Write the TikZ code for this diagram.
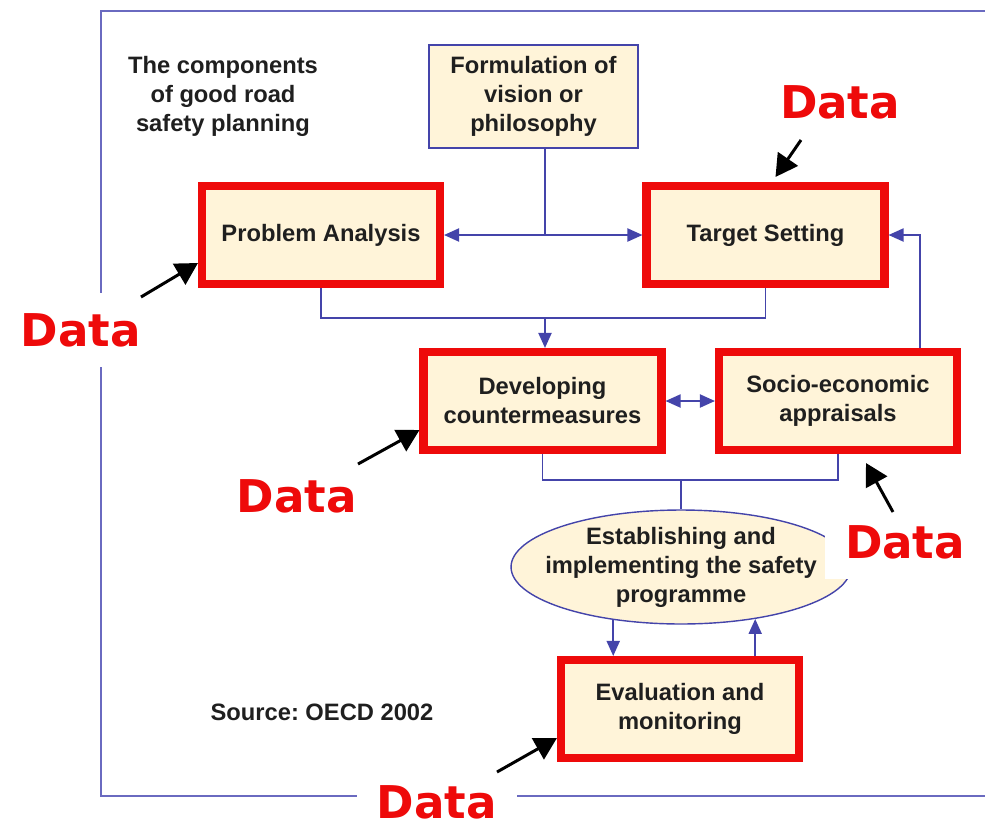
\documentclass[tikz,border=0pt]{standalone}
\usepackage{fontspec}
\setmainfont{Liberation Sans}
\newfontfamily\datafont{DejaVu Sans}
\usetikzlibrary{arrows.meta, shapes.geometric}
\definecolor{cream}{HTML}{FFF4D9}
\definecolor{linkblue}{HTML}{4444AA}
\definecolor{frameblue}{HTML}{6A6AC0}
\definecolor{datared}{HTML}{EE0A0A}
\frenchspacing

\begin{document}
\begin{tikzpicture}[x=0.02cm, y=-0.02cm,
  >={Triangle[length=0.3cm, width=0.26cm]},
  every node/.style={font=\fontsize{13.5}{16.5}\selectfont\bfseries, text=black!88, align=center},
  stage/.style={draw=linkblue, line width=0.9pt, fill=cream, minimum width=4.18cm, minimum height=2.06cm},
  datastage/.style={draw=datared, line width=4.6pt, fill=cream, minimum width=4.76cm, minimum height=1.96cm},
  link/.style={draw=linkblue, line width=1.1pt},
  dataref/.style={font=\datafont\fontsize{25.7}{30}\selectfont\bfseries, text=datared, fill=white, inner sep=0.4cm},
  pointer/.style={line width=1.7pt, -{Triangle[length=0.44cm, width=0.48cm]}}]
\useasboundingbox (0,0) rectangle (985,823);
\draw[frameblue, line width=1.2pt] (985,11) -- (101,11) -- (101,796) -- (985,796);
\path
(223,96) node (title) {The components\\of good road\\safety planning};
\path
(322,712) node (source) {Source: OECD 2002};
\path
(533.5,96.5) node[stage] (form) {Formulation of\\vision or\\philosophy};
\path
(321,235) node[datastage] (prob) {Problem Analysis};
\path
(765.5,235) node[datastage] (targ) {Target Setting};
\path
(542.5,401) node[datastage] (dev) {Developing\\countermeasures};
\path
(838,401) node[datastage] (socio) {Socio-economic\\appraisals};
\path
(681,567) node[ellipse, draw=linkblue, line width=0.8pt, fill=cream, minimum width=6.8cm, minimum height=2.28cm, inner sep=0pt] (impl) {};
\path
(impl.center) node (impltext) {Establishing and\\implementing the safety\\programme};
\path
(680,709) node[datastage] (eval) {Evaluation and\\monitoring};
\coordinate (fj) at (545,235);
\coordinate (mj) at (545,318);
\coordinate (lj) at (681,480);
\draw[link] (form.south -| fj) -- (fj);
\draw[link, <->] (prob.east) -- (targ.west);
\draw[link] (prob.south) |- (mj) -| (targ.south);
\draw[link, ->] (mj) -- (mj |- dev.north);
\draw[link, <->] (dev.east) -- (socio.west);
\draw[link, ->] ([xshift=-0.82cm]socio.north east) |- (targ.east);
\draw[link] (dev.south) |- (lj) -| (socio.south);
\draw[link] (lj) -- (impl.north);
\draw[link, ->] (impl.218) -- (impl.218 |- eval.north);
\draw[link, ->] (eval.north -| impl.325) -- (impl.325);
\path
(840,102) node[dataref] (datatarg) {Data};
\path
(81,330) node[dataref] (dataprob) {Data};
\path
(297,496) node[dataref] (datadev) {Data};
\path
(905,542) node[dataref] (datasocio) {Data};
\path
(437,802) node[dataref] (dataeval) {Data};
\draw[pointer] ([shift={(-39,38)}]datatarg.center) -- ([shift={(10,-5)}]targ.north);
\draw[pointer] ([shift={(60,-33)}]dataprob.center) -- ([shift={(0,28)}]prob.west);
\draw[pointer] ([shift={(61,-32)}]datadev.center) -- ([shift={(0,29)}]dev.west);
\draw[pointer] ([shift={(-12,-30)}]datasocio.center) -- ([shift={(28,9)}]socio.south);
\draw[pointer] ([shift={(60,-30)}]dataeval.center) -- ([shift={(0,29)}]eval.west);
\end{tikzpicture}
\end{document}
